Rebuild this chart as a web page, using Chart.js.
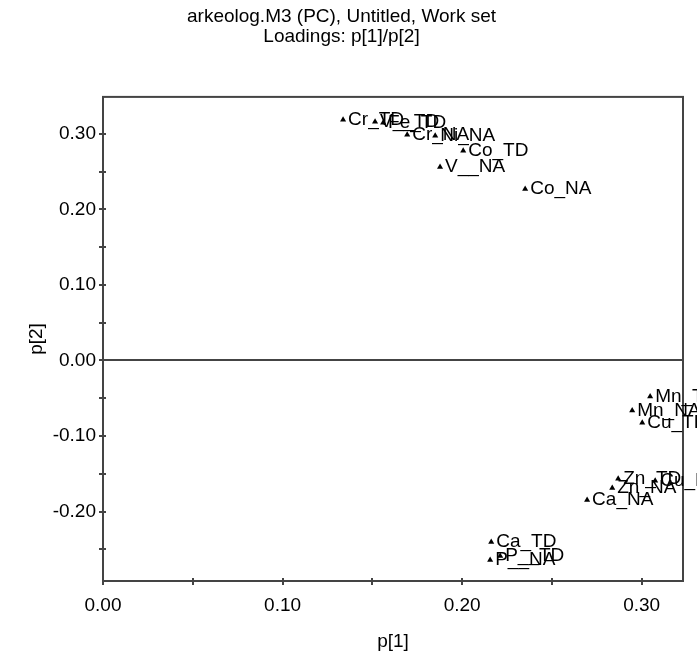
<!DOCTYPE html>
<html>
<head>
<meta charset="utf-8">
<script src="https://cdn.jsdelivr.net/npm/chart.js@4.4.0/dist/chart.umd.min.js"></script>
<style>
html,body{margin:0;padding:0;background:#fff;}
#wrap{width:697px;height:655px;position:relative;}
</style>
</head>
<body>
<div id="wrap"><canvas id="c" width="697" height="655"></canvas></div>
<script>
const titleLines = ["arkeolog.M3 (PC), Untitled, Work set", "Loadings: p[1]/p[2]"];
const xTitle = "p[1]";
const yTitle = "p[2]";
const varNames = ["Cr_TD","V__TD","Fe_TD","Cr_NA","Ni_NA","Co_TD","V__NA","Co_NA",
                  "Mn_TD","Mn_NA","Cu_TD","Zn_TD","Zn_NA","Cu_NA","Ca_NA",
                  "Ca_TD","P__TD","P__NA"];
const p1 = [0.1337,0.1515,0.1560,0.1694,0.1850,0.2006,0.1877,0.2351,
            0.3047,0.2947,0.3003,0.2869,0.2836,0.3075,0.2696,
            0.2162,0.2212,0.2156];
const p2 = [0.3187,0.3161,0.3147,0.2988,0.2975,0.2776,0.2563,0.2271,
            -0.0478,-0.0664,-0.0823,-0.1567,-0.1687,-0.1594,-0.1846,
            -0.2404,-0.2590,-0.2643];
const xRange = [0, 0.323];
const yRange = [-0.292, 0.349];
const tickStep = 0.05;

const FONT = "'Liberation Sans', Arial, sans-serif";
const FS = 19;
const points = p1.map((v, i) => ({x: v, y: p2[i], label: varNames[i]}));

function fmtTick(v) {
  const k = Math.round(v * 100);
  if (k % 10 !== 0) return '';
  return (k / 100).toFixed(2);
}

const frame = {
  id: 'frame',
  afterDatasetsDraw(chart) {
    const {ctx, chartArea: a, scales} = chart;
    ctx.save();
    ctx.strokeStyle = '#444';
    ctx.lineWidth = 2;
    const y0 = Math.round(scales.y.getPixelForValue(0));
    ctx.beginPath();
    ctx.moveTo(a.left, y0); ctx.lineTo(a.right, y0);
    // inner parts of tick marks
    scales.x.ticks.forEach(t => {
      const px = Math.round(scales.x.getPixelForValue(t.value));
      ctx.moveTo(px, a.bottom); ctx.lineTo(px, a.bottom - 3);
    });
    scales.y.ticks.forEach(t => {
      const py = Math.round(scales.y.getPixelForValue(t.value));
      ctx.moveTo(a.left, py); ctx.lineTo(a.left + 3, py);
    });
    ctx.stroke();
    ctx.strokeRect(a.left, a.top, a.right - a.left, a.bottom - a.top);
    ctx.fillStyle = '#000';
    ctx.font = FS + "px " + FONT;
    ctx.textBaseline = 'middle';
    ctx.textAlign = 'left';
    const meta = chart.getDatasetMeta(0);
    meta.data.forEach((el, i) => {
      ctx.fillText(points[i].label, el.x + 5, el.y);
    });
    ctx.restore();
  }
};

new Chart(document.getElementById('c'), {
  type: 'scatter',
  data: {
    datasets: [{
      data: points,
      pointStyle: 'triangle',
      pointRadius: 3.5,
      pointHoverRadius: 3.5,
      backgroundColor: '#000',
      borderColor: '#000',
      borderWidth: 0
    }]
  },
  options: {
    responsive: false,
    animation: false,
    events: [],
    layout: {padding: {left: 0, right: 14, top: 0, bottom: 0}},
    plugins: {
      legend: {display: false},
      tooltip: {enabled: false},
      title: {
        display: true,
        text: titleLines,
        color: '#000',
        font: {family: FONT, size: FS, weight: 'normal', lineHeight: 1.05},
        padding: {top: 7, bottom: 50}
      }
    },
    scales: {
      x: {
        type: 'linear',
        min: xRange[0], max: xRange[1],
        afterFit(s) { s.height = 74; },
        grid: {display: true, drawOnChartArea: false, drawTicks: true, tickLength: 4, color: '#444', lineWidth: 2},
        border: {display: false},
        ticks: {
          stepSize: tickStep, includeBounds: false, autoSkip: false, maxRotation: 0,
          callback: fmtTick, color: '#000', padding: 9,
          font: {family: FONT, size: FS}
        },
        title: {display: true, text: xTitle, color: '#000', padding: {top: 0, bottom: 2},
          font: {family: FONT, size: FS}}
      },
      y: {
        type: 'linear',
        min: yRange[0], max: yRange[1],
        afterFit(s) { s.width = 103; },
        grid: {display: true, drawOnChartArea: false, drawTicks: true, tickLength: 4, color: '#444', lineWidth: 2},
        border: {display: false},
        ticks: {
          stepSize: tickStep, includeBounds: false, autoSkip: false,
          callback: fmtTick, color: '#000', padding: 3,
          font: {family: FONT, size: FS}
        },
        title: {display: true, text: yTitle, color: '#000', padding: {top: 25, bottom: 0},
          font: {family: FONT, size: FS}}
      }
    }
  },
  plugins: [frame]
});
</script>
</body>
</html>
